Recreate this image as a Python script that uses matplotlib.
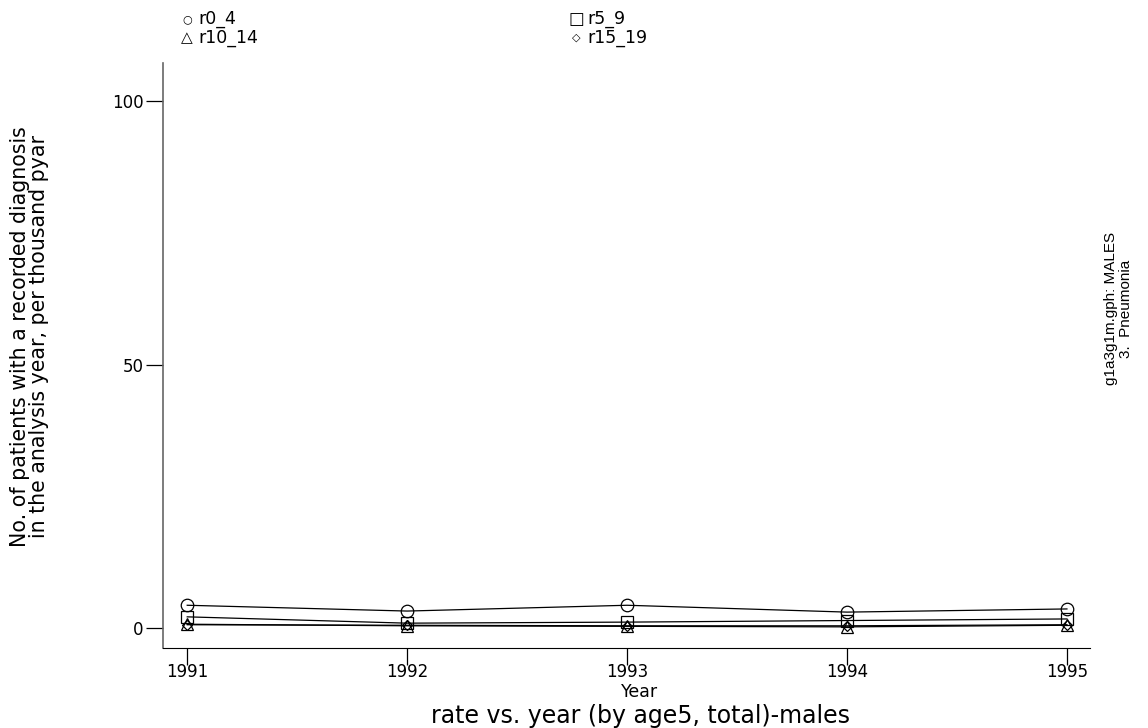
import matplotlib
matplotlib.use("Agg")
import matplotlib.pyplot as plt

plt.rcParams['font.family'] = ['DejaVu Sans']

years = [1991, 1992, 1993, 1994, 1995]
r0_4 = [4.3, 3.2, 4.3, 3.0, 3.6]
r5_9 = [2.1, 0.9, 1.1, 1.4, 1.7]
r10_14 = [0.7, 0.4, 0.3, 0.2, 0.5]
r15_19 = [0.6, 0.5, 0.4, 0.4, 0.6]
series = [("r0_4", r0_4, "o"), ("r5_9", r5_9, "s"),
          ("r10_14", r10_14, "^"), ("r15_19", r15_19, "D")]
yticks = [0, 50, 100]

fig = plt.figure(figsize=(11.48, 7.28), dpi=100)
ax = fig.add_axes([0.142, 0.110, 0.8075, 0.803])

sizes = {"o": 9, "s": 9, "^": 9, "D": 5}
for name, vals, m in series:
    ax.plot(years, vals, color="black", lw=0.9, marker=m,
            markersize=sizes[m], markerfacecolor="none",
            markeredgecolor="black", markeredgewidth=0.9)

ax.set_xlim(1990.89, 1995.105)
ax.set_ylim(-3.8, 107.2)
ax.set_xticks(years)
ax.set_yticks(yticks)
ax.tick_params(axis="both", direction="out", length=12, width=0.9,
               labelsize=12, pad=2)
ax.tick_params(axis="x", pad=-1)
for s in ["top", "right"]:
    ax.spines[s].set_visible(False)
ax.spines["left"].set_color("#666666")
ax.spines["left"].set_linewidth(1.2)
ax.spines["bottom"].set_color("black")

fig.text(0.026, 0.538, "No. of patients with a recorded diagnosis\n"
         "in the analysis year, per thousand pyar", rotation=90,
         ha="center", va="center", fontsize=14.8, linespacing=0.95)

fig.text(0.5575, 0.050, "Year", ha="center", va="center", fontsize=12.5)
fig.text(0.5575, 0.017, "rate vs. year (by age5, total)-males",
         ha="center", va="center", fontsize=17)

fig.text(0.9745, 0.576, "g1a3g1m.gph: MALES\n3.  Pneumonia", rotation=90,
         ha="center", va="center", fontsize=11, linespacing=1.1,
         family=["Liberation Sans"])

# legend as text rows at top
legend_pos = [(0.163, 0.974), (0.502, 0.974), (0.163, 0.948), (0.502, 0.948)]
legend_sym = ["\u25cb", "\u25a1", "\u25b3", "\u25c7"]
sym_size = [8, 12, 11, 8]
for (name, vals, m), (lx, ly), sym, ss in zip(series, legend_pos, legend_sym, sym_size):
    fig.text(lx, ly, sym, ha="center", va="center", fontsize=ss)
    fig.text(lx + 0.0095, ly, name, ha="left", va="center", fontsize=12.5)

fig.savefig("out.png", dpi=100)
